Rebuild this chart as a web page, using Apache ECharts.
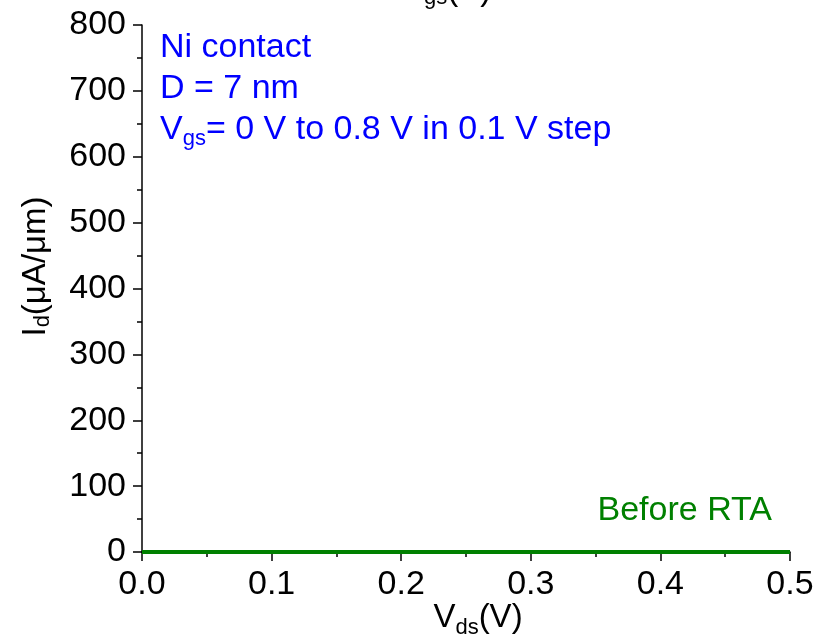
<!DOCTYPE html>
<html>
<head>
<meta charset="utf-8">
<script src="https://cdn.jsdelivr.net/npm/echarts@6/dist/echarts.min.js"></script>
<style>
  html, body { margin: 0; padding: 0; background: #fff; }
  #chart { width: 828px; height: 641px; }
</style>
</head>
<body>
<div id="chart"></div>
<script>
// Vds sweep (V)
var vds = [0, 0.05, 0.1, 0.15, 0.2, 0.25, 0.3, 0.35, 0.4, 0.45, 0.5];
// gate voltages of the family of curves (V)
var vgsSteps = [0, 0.1, 0.2, 0.3, 0.4, 0.5, 0.6, 0.7, 0.8];
// Id (uA/um) before RTA: all curves sit on the zero line at this scale
var idBeforeRta = [
  [0, 0, 0, 0, 0, 0, 0, 0, 0, 0, 0],
  [0, 0, 0, 0, 0, 0, 0, 0, 0, 0, 0],
  [0, 0, 0, 0, 0, 0, 0, 0, 0, 0, 0],
  [0, 0, 0, 0, 0, 0, 0, 0, 0, 0, 0],
  [0, 0, 0, 0, 0, 0, 0, 0, 0, 0, 0],
  [0, 0, 0, 0, 0, 0, 0, 0, 0, 0, 0],
  [0, 0, 0, 0, 0, 0, 0, 0, 0, 0, 0],
  [0, 0, 0, 0, 0, 0, 0, 0, 0, 0, 0],
  [0, 0, 0, 0, 0, 0, 0, 0, 0, 0, 0]
];

var FONT = '"Liberation Sans", Arial, sans-serif';
var chart = echarts.init(document.getElementById('chart'));

var series = vgsSteps.map(function (vg, i) {
  return {
    name: 'Vgs=' + vg,
    type: 'line',
    showSymbol: false,
    data: vds.map(function (v, j) { return [v, idBeforeRta[i][j]]; }),
    lineStyle: { color: '#008000', width: 4 },
    z: 5
  };
});

var subRich = function (color, drop) {
  return {
    v: { fontFamily: FONT, fontSize: 33, color: color, fill: color },
    s: { fontFamily: FONT, fontSize: 22, color: color, fill: color, verticalAlign: 'bottom', padding: [drop, 0, 0, 0] }
  };
};

chart.setOption({
  animation: false,
  grid: { left: 142, right: 38, top: 25, bottom: 89, containLabel: false, outerBoundsMode: 'none' },
  xAxis: {
    type: 'value',
    min: 0, max: 0.5, interval: 0.1,
    axisLine: { show: true, lineStyle: { color: '#000', width: 1.5 } },
    axisTick: { show: true, inside: false, length: 9, lineStyle: { color: '#000', width: 1.5 } },
    minorTick: { show: true, splitNumber: 2, length: 5, lineStyle: { color: '#000', width: 1.5 } },
    splitLine: { show: false },
    axisLabel: {
      margin: 16, fontFamily: FONT, fontSize: 34, color: '#000',
      formatter: function (v) { return v.toFixed(1); }
    },
    name: '{v|V}{s|ds}{v|(V)}',
    nameLocation: 'middle',
    nameGap: 45,
    nameMoveOverlap: false,
    nameTextStyle: { padding: [0, 0, 0, 24], rich: subRich('#000', 20) }
  },
  yAxis: {
    type: 'value',
    min: 0, max: 800, interval: 100,
    axisLine: { show: true, lineStyle: { color: '#000', width: 1.5 } },
    axisTick: { show: true, inside: false, length: 9, lineStyle: { color: '#000', width: 1.5 } },
    minorTick: { show: true, splitNumber: 2, length: 5, lineStyle: { color: '#000', width: 1.5 } },
    splitLine: { show: false },
    axisLabel: { margin: 16, fontFamily: FONT, fontSize: 34, color: '#000' },
    name: '{v|I}{s|d}{v|(μA/μm)}',
    nameLocation: 'middle',
    nameGap: 88,
    nameMoveOverlap: false,
    nameTextStyle: { padding: [0, 0, 0, 44], rich: subRich('#000', 15) }
  },
  graphic: [
    {
      type: 'text', left: 160, top: 27, z: 10,
      style: {
        text: '{v|Ni contact}\n{v|D = 7 nm}\n{v|V}{s|gs}{v|= 0 V to 0.8 V in 0.1 V step}',
        fontFamily: FONT, fontSize: 34, fill: '#0000ff', lineHeight: 41,
        rich: {
          v: { fontFamily: FONT, fontSize: 34, fill: '#0000ff', lineHeight: 41 },
          s: { fontFamily: FONT, fontSize: 22, fill: '#0000ff', verticalAlign: 'bottom', padding: [15, 0, 0, 0], lineHeight: 41 }
        }
      }
    },
    {
      type: 'text', right: 56, top: 494, z: 10,
      style: { text: 'Before RTA', fontFamily: FONT, fontSize: 34, fill: '#008000' }
    },
    {
      // bottom of the x-axis title of the panel above, cut by the frame
      type: 'text', left: 402, top: -26, z: 10,
      style: { text: '{v|V}{s|gs}{v|(V)}', rich: subRich('#000', 15) }
    }
  ],
  series: series
});
</script>
</body>
</html>
